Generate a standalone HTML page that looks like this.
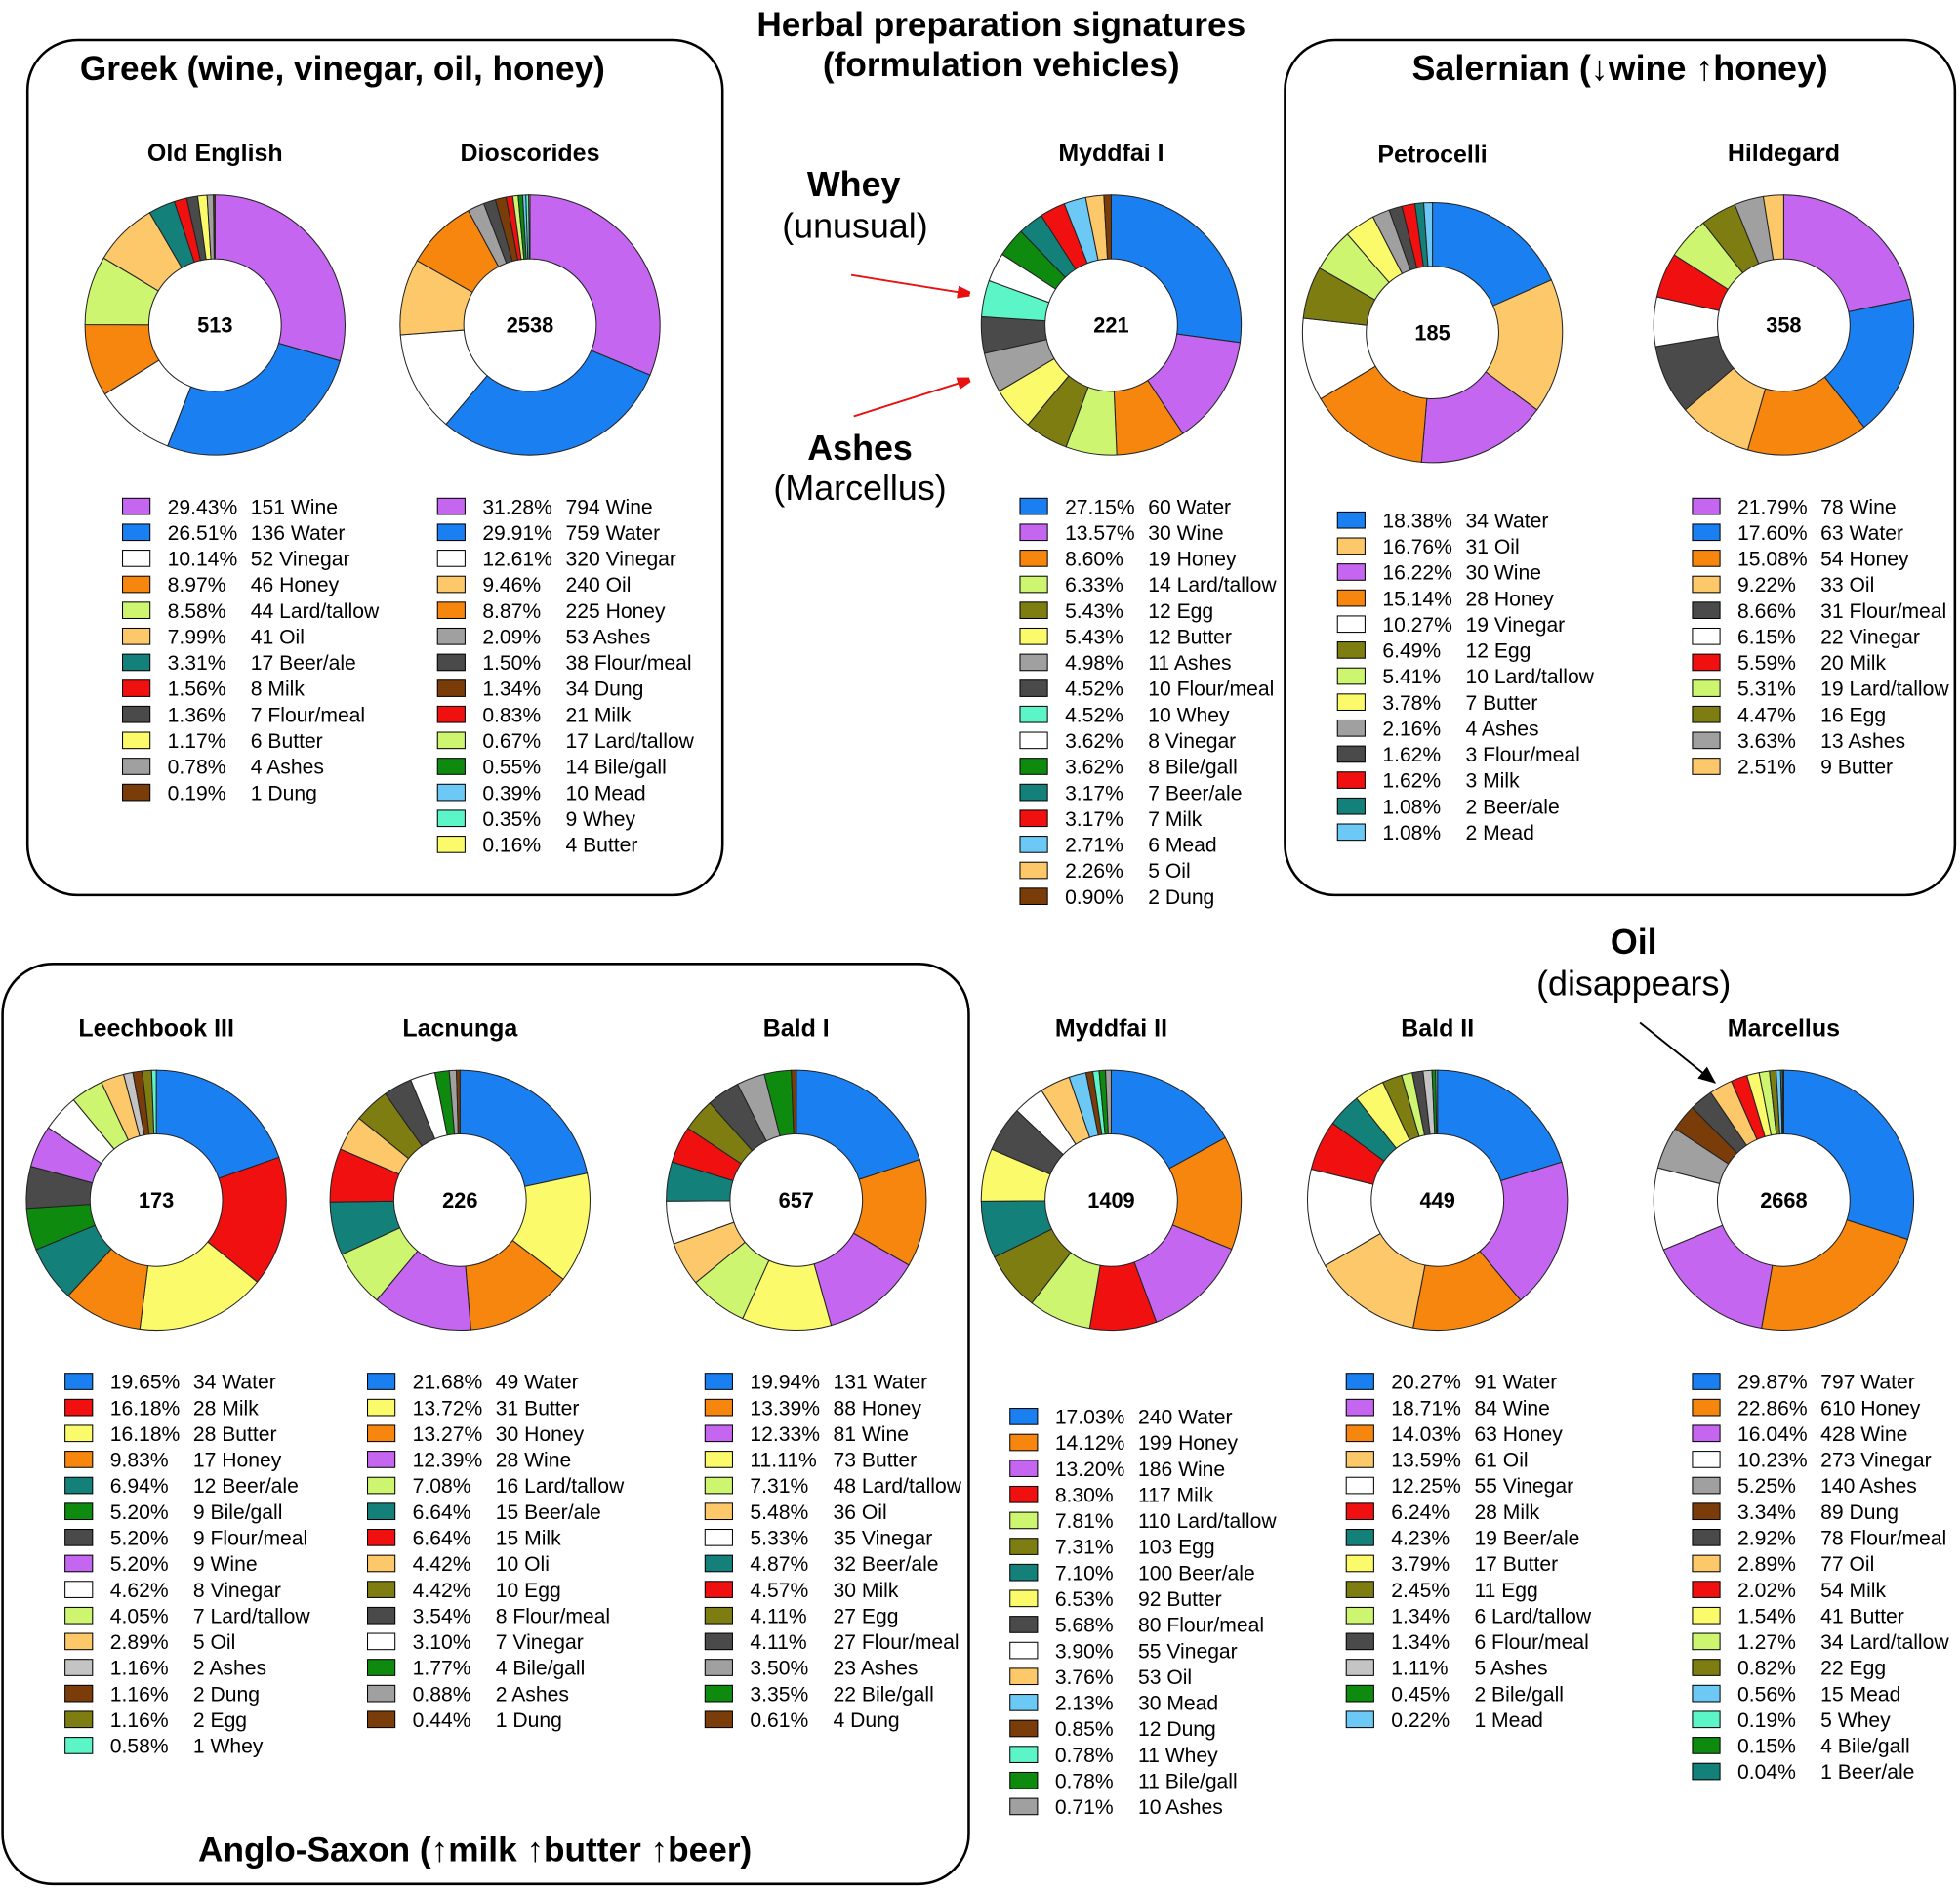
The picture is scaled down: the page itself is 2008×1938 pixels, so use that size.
<!DOCTYPE html>
<html><head><meta charset="utf-8">
<style>
html,body{margin:0;padding:0;background:#fff;}
svg{display:block;font-family:"Liberation Sans",sans-serif;}
</style></head>
<body>
<svg id="fig" width="2008" height="1938" viewBox="0 0 1568 1513.4" xmlns="http://www.w3.org/2000/svg">
<defs>
<marker id="arR" markerWidth="10" markerHeight="10" refX="9" refY="5" orient="auto" markerUnits="userSpaceOnUse"><path d="M0,0 L18,5 L0,10 z" fill="#e81010" transform="scale(0.9,1)"/></marker>
<marker id="arK" markerWidth="14" markerHeight="12" refX="13" refY="6" orient="auto" markerUnits="userSpaceOnUse"><path d="M0,0 L14,6 L0,12 z" fill="#000"/></marker>
</defs>
<rect x="22" y="32" width="556" height="684" rx="40" fill="none" stroke="#000" stroke-width="2"/>
<rect x="1028" y="32" width="536" height="684" rx="40" fill="none" stroke="#000" stroke-width="2"/>
<rect x="2" y="771" width="773" height="736" rx="40" fill="none" stroke="#000" stroke-width="2"/>
<g font-weight="bold" text-anchor="middle" fill="#000">
<text x="801" y="29" font-size="27.5">Herbal preparation signatures</text>
<text x="801" y="61" font-size="27.5">(formulation vehicles)</text>
<text x="274" y="64" font-size="27.5">Greek (wine, vinegar, oil, honey)</text>
<text x="1296" y="64" font-size="28">Salernian (↓wine ↑honey)</text>
<text x="380" y="1489" font-size="27.5">Anglo-Saxon (↑milk ↑butter ↑beer)</text>
<text x="683" y="157" font-size="28">Whey</text>
<text x="688" y="368" font-size="28">Ashes</text>
<text x="1307" y="763" font-size="28">Oil</text>
</g>
<g text-anchor="middle" font-size="28" fill="#000">
<text x="684" y="190">(unusual)</text>
<text x="688" y="400">(Marcellus)</text>
<text x="1307" y="796">(disappears)</text>
</g>
<line x1="681" y1="220" x2="775" y2="235" stroke="#e81010" stroke-width="1.5" marker-end="url(#arR)"/>
<line x1="683" y1="333" x2="775" y2="304" stroke="#e81010" stroke-width="1.5" marker-end="url(#arR)"/>
<line x1="1312" y1="818" x2="1372" y2="866" stroke="#000" stroke-width="1.5" marker-end="url(#arK)"/>
<g id="charts"></g>
</svg>
<script>
const colors={"Water":"#1a7ff0","Wine":"#c466f0","Vinegar":"#ffffff","Honey":"#f7860f","Lard/tallow":"#cdf570","Oil":"#fcc86a","Oli":"#fcc86a","Beer/ale":"#14807a","Milk":"#f01010","Flour/meal":"#4a4a4a","Butter":"#fafa6a","Ashes":"#a0a0a0","Dung":"#7a3d0a","Bile/gall":"#0e8a0e","Mead":"#6cc8f5","Whey":"#5cf5c8","Egg":"#7d7d12"};

const oeLabels=["Wine","Water","Vinegar","Honey","Lard/tallow","Oil","Beer/ale","Milk","Flour/meal","Butter","Ashes","Dung"];
const oeCounts=[151,136,52,46,44,41,17,8,7,6,4,1];
const diLabels=["Wine","Water","Vinegar","Oil","Honey","Ashes","Flour/meal","Dung","Milk","Lard/tallow","Bile/gall","Mead","Whey","Butter"];
const diCounts=[794,759,320,240,225,53,38,34,21,17,14,10,9,4];
const m1Labels=["Water","Wine","Honey","Lard/tallow","Egg","Butter","Ashes","Flour/meal","Whey","Vinegar","Bile/gall","Beer/ale","Milk","Mead","Oil","Dung"];
const m1Counts=[60,30,19,14,12,12,11,10,10,8,8,7,7,6,5,2];
const peLabels=["Water","Oil","Wine","Honey","Vinegar","Egg","Lard/tallow","Butter","Ashes","Flour/meal","Milk","Beer/ale","Mead"];
const peCounts=[34,31,30,28,19,12,10,7,4,3,3,2,2];
const hiLabels=["Wine","Water","Honey","Oil","Flour/meal","Vinegar","Milk","Lard/tallow","Egg","Ashes","Butter"];
const hiCounts=[78,63,54,33,31,22,20,19,16,13,9];
const leLabels=["Water","Milk","Butter","Honey","Beer/ale","Bile/gall","Flour/meal","Wine","Vinegar","Lard/tallow","Oil","Ashes","Dung","Egg","Whey"];
const leCounts=[34,28,28,17,12,9,9,9,8,7,5,2,2,2,1];
const laLabels=["Water","Butter","Honey","Wine","Lard/tallow","Beer/ale","Milk","Oli","Egg","Flour/meal","Vinegar","Bile/gall","Ashes","Dung"];
const laCounts=[49,31,30,28,16,15,15,10,10,8,7,4,2,1];
const b1Labels=["Water","Honey","Wine","Butter","Lard/tallow","Oil","Vinegar","Beer/ale","Milk","Egg","Flour/meal","Ashes","Bile/gall","Dung"];
const b1Counts=[131,88,81,73,48,36,35,32,30,27,27,23,22,4];
const m2Labels=["Water","Honey","Wine","Milk","Lard/tallow","Egg","Beer/ale","Butter","Flour/meal","Vinegar","Oil","Mead","Dung","Whey","Bile/gall","Ashes"];
const m2Counts=[240,199,186,117,110,103,100,92,80,55,53,30,12,11,11,10];
const b2Labels=["Water","Wine","Honey","Oil","Vinegar","Milk","Beer/ale","Butter","Egg","Lard/tallow","Flour/meal","Ashes","Bile/gall","Mead"];
const b2Counts=[91,84,63,61,55,28,19,17,11,6,6,5,2,1];
const maLabels=["Water","Honey","Wine","Vinegar","Ashes","Dung","Flour/meal","Oil","Milk","Butter","Lard/tallow","Egg","Mead","Whey","Bile/gall","Beer/ale"];
const maCounts=[797,610,428,273,140,89,78,77,54,41,34,22,15,5,4,1];

const charts=[
 {id:"old-english",title:"Old English",labels:oeLabels,counts:oeCounts,cx:172,cy:260,ty:129,lx:98,ly:405},
 {id:"dioscorides",title:"Dioscorides",labels:diLabels,counts:diCounts,cx:424,cy:260,ty:129,lx:350,ly:405},
 {id:"myddfai-i",title:"Myddfai I",labels:m1Labels,counts:m1Counts,cx:889,cy:260,ty:129,lx:816,ly:405},
 {id:"petrocelli",title:"Petrocelli",labels:peLabels,counts:peCounts,cx:1146,cy:266,ty:130,lx:1070,ly:416},
 {id:"hildegard",title:"Hildegard",labels:hiLabels,counts:hiCounts,cx:1427,cy:260,ty:129,lx:1354,ly:405,over:{"Butter":"#fcc86a"}},
 {id:"leechbook-iii",title:"Leechbook III",labels:leLabels,counts:leCounts,cx:125,cy:960,ty:829,lx:52,ly:1105,over:{"Ashes":"#c4c4c4"}},
 {id:"lacnunga",title:"Lacnunga",labels:laLabels,counts:laCounts,cx:368,cy:960,ty:829,lx:294,ly:1105},
 {id:"bald-i",title:"Bald I",labels:b1Labels,counts:b1Counts,cx:637,cy:960,ty:829,lx:564,ly:1105},
 {id:"myddfai-ii",title:"Myddfai II",labels:m2Labels,counts:m2Counts,cx:889,cy:960,ty:829,lx:808,ly:1133},
 {id:"bald-ii",title:"Bald II",labels:b2Labels,counts:b2Counts,cx:1150,cy:960,ty:829,lx:1077,ly:1105,over:{"Ashes":"#c4c4c4"}},
 {id:"marcellus",title:"Marcellus",labels:maLabels,counts:maCounts,cx:1427,cy:960,ty:829,lx:1354,ly:1105}
];
const NS="http://www.w3.org/2000/svg";
const root=document.getElementById("charts");
function mk(tag,attrs,parent){const e=document.createElementNS(NS,tag);for(const k in attrs)e.setAttribute(k,attrs[k]);parent.appendChild(e);return e;}
const R=104,r=53,STEP=20.8;
function pt(cx,cy,rad,a){return [cx+rad*Math.sin(a),cy-rad*Math.cos(a)];}
charts.forEach(c=>{
 const col=l=>(c.over&&c.over[l])||colors[l]||"#ccc";
 const g=mk("g",{},root);
 
 
 const t=mk("text",{x:c.cx,y:c.ty,"text-anchor":"middle","font-size":"19.5","font-weight":"bold"},g);
 t.textContent=c.title;
 
 
 const total=c.counts.reduce((a,b)=>a+b,0);
 let a0=0;
 c.counts.forEach((v,i)=>{
  const a1=a0+v/total*2*Math.PI;
  const large=(a1-a0)>Math.PI?1:0;
  const [x0,y0]=pt(c.cx,c.cy,R,a0),[x1,y1]=pt(c.cx,c.cy,R,a1),[x2,y2]=pt(c.cx,c.cy,r,a1),[x3,y3]=pt(c.cx,c.cy,r,a0);
  const d=`M${x0},${y0} A${R},${R} 0 ${large} 1 ${x1},${y1} L${x2},${y2} A${r},${r} 0 ${large} 0 ${x3},${y3} Z`;
  const p=mk("path",{d:d,fill:col(c.labels[i]),stroke:"#222","stroke-width":"0.8"},g);
  
  
  a0=a1;
 });
 const ct=mk("text",{x:c.cx,y:c.cy+6,"text-anchor":"middle","font-size":"17","font-weight":"bold"},g);
 ct.textContent=total;
 
 
 c.counts.forEach((v,i)=>{
  const y=c.ly+i*STEP;
  const lg=mk("g",{},g);
  
  
  mk("rect",{x:c.lx,y:y-6.5,width:22,height:13,fill:col(c.labels[i]),stroke:"#000","stroke-width":"0.8"},lg);
  const pt1=mk("text",{x:c.lx+36,y:y+6,"font-size":"16.5"},lg);
  pt1.textContent=(v/total*100).toFixed(2)+"%";
  const pt2=mk("text",{x:c.lx+102.5,y:y+6,"font-size":"16.5"},lg);
  pt2.textContent=v+" "+c.labels[i];
 });
});
</script>
</body></html>
